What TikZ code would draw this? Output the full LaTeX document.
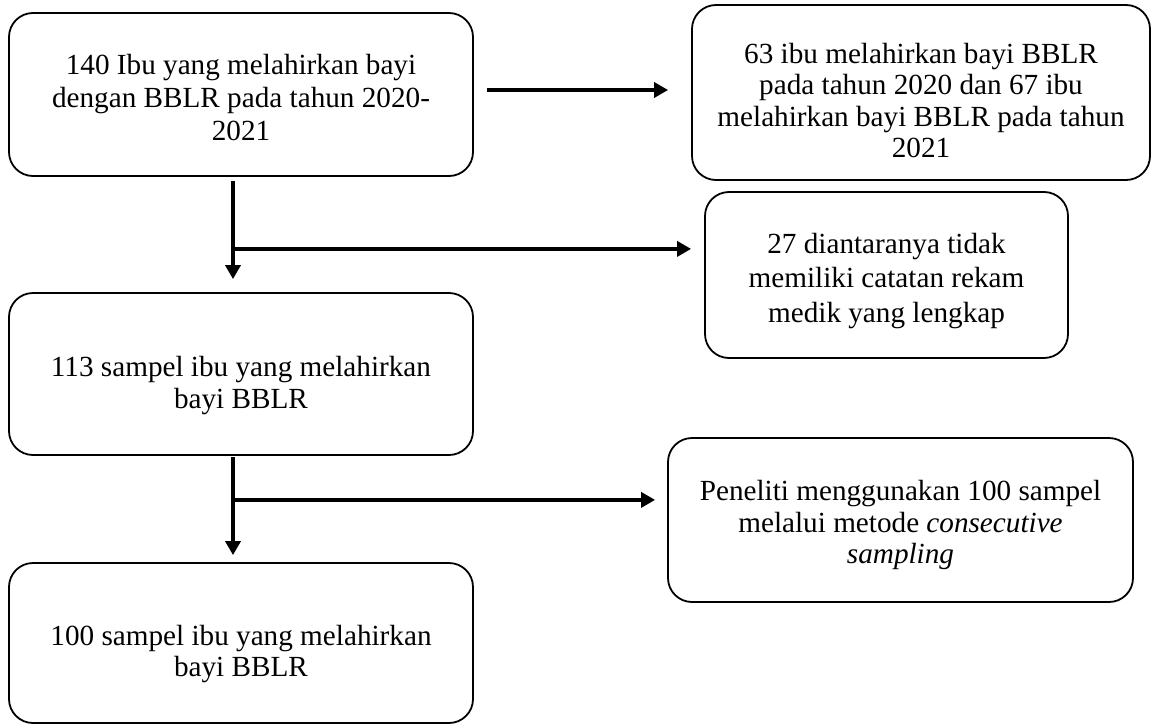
\documentclass[tikz,border=0pt]{standalone}
\usepackage{fontspec}
\setmainfont{Liberation Serif}
\usetikzlibrary{arrows.meta,calc}
\begin{document}
\begin{tikzpicture}[x=1pt,y=-1pt,
  box/.style={draw=black,line width=1.8pt,rounded corners=24pt,inner sep=0pt},
  txt/.style={align=center,inner sep=0pt},
  arr/.style={line width=3.8pt,-{Triangle[length=14pt,width=15pt]}}]
\useasboundingbox (0,0) rectangle (1153,725);
\node[box,minimum width=464pt,minimum height=163pt] (b1) at (241,94.5) {};
\node[box,minimum width=458pt,minimum height=175pt] (b2) at (921,92.5) {};
\node[box,minimum width=363pt,minimum height=166pt] (b3) at (886.5,275) {};
\node[box,minimum width=464pt,minimum height=162pt] (b4) at (241,374) {};
\node[box,minimum width=465pt,minimum height=164pt] (b5) at (900.5,520) {};
\node[box,minimum width=464pt,minimum height=160pt] (b6) at (241,643) {};
\node[txt,font=\fontsize{29.2}{33}\selectfont] (t1) at ([yshift=-3pt]b1.center)
  {140 Ibu yang melahirkan bayi\\dengan BBLR pada tahun 2020-\\2021};
\node[txt,font=\fontsize{29.2}{31.5}\selectfont] (t2) at ([yshift=-8pt]b2.center)
  {63 ibu melahirkan bayi BBLR\\pada tahun 2020 dan 67 ibu\\melahirkan bayi BBLR pada tahun\\2021};
\node[txt,font=\fontsize{29.2}{34.5}\selectfont] (t3) at ([yshift=-6pt]b3.center)
  {27 diantaranya tidak\\memiliki catatan rekam\\medik yang lengkap};
\node[txt,font=\fontsize{29.2}{32}\selectfont] (t4) at ([yshift=-12pt]b4.center)
  {113 sampel ibu yang melahirkan\\bayi BBLR};
\node[txt,font=\fontsize{29.2}{31.5}\selectfont] (t5) at ([yshift=-5pt]b5.center)
  {Peneliti menggunakan 100 sampel\\melalui metode \textit{consecutive}\\\textit{sampling}};
\node[txt,font=\fontsize{29.2}{30.5}\selectfont] (t6) at ([yshift=-11pt]b6.center)
  {100 sampel ibu yang melahirkan\\bayi BBLR};
% arrow top
\draw[arr] ([xshift=13pt,yshift=4.5pt]b1.east) -- ([xshift=-23pt,yshift=4.5pt]b1.east -| b2.west);
% first split
\coordinate (j1) at ($(b1.south)+(-8,72)$);
\draw[arr] ([xshift=-8pt,yshift=-4pt]b1.south) -- ([xshift=-8pt,yshift=13pt]b4.north);
\draw[arr] ([xshift=-1.9pt]j1) -- ([xshift=-13pt]j1 -| b3.west);
% second split
\coordinate (j2) at ($(b4.south)+(-8,44)$);
\draw[arr] ([xshift=-8pt,yshift=-1pt]b4.south) -- ([xshift=-8pt,yshift=7pt]b6.north);
\draw[arr] ([xshift=-1.9pt]j2) -- ([xshift=-12pt]j2 -| b5.west);
\end{tikzpicture}
\end{document}
